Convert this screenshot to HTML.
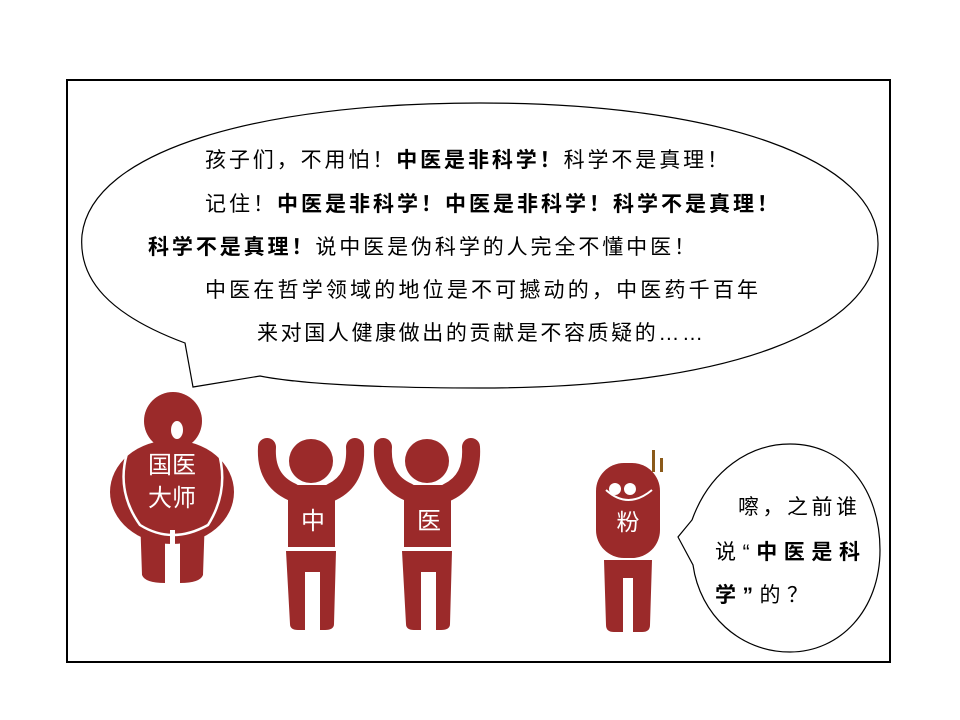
<!DOCTYPE html>
<html><head><meta charset="utf-8"><style>
body{margin:0;background:#fff;}
svg{display:block;}
text{font-family:"Liberation Sans","Noto Sans CJK SC",sans-serif;}
</style></head><body>
<svg width="960" height="720" viewBox="0 0 960 720">
<rect x="67" y="80" width="823" height="582" fill="#fff" stroke="#000" stroke-width="2"/>
<g>
<path d="M185,343 C110,315 78,280 82,235 C92,150 260,103 480,103 C720,103 880,160 878,245 C876,330 730,388 480,388 C380,388 300,384 260,376 L193,387 Z" fill="#fff" stroke="#000" stroke-width="1.2"/>
</g>
<g font-size="21" fill="#000">
<text x="205" y="167" textLength="523" lengthAdjust="spacing">孩子们，不用怕！<tspan font-weight="bold">中医是非科学！</tspan>科学不是真理！</text>
<text x="205" y="211" textLength="573" lengthAdjust="spacing">记住！<tspan font-weight="bold">中医是非科学！中医是非科学！科学不是真理！</tspan></text>
<text x="148" y="254" textLength="547" lengthAdjust="spacing"><tspan font-weight="bold">科学不是真理！</tspan>说中医是伪科学的人完全不懂中医！</text>
<text x="205" y="297" textLength="553" lengthAdjust="spacing">中医在哲学领域的地位是不可撼动的，中医药千百年</text>
<text x="257" y="340" textLength="446" lengthAdjust="spacing">来对国人健康做出的贡献是不容质疑的……</text>
</g>
<g fill="#9b2a2a">
<circle cx="173" cy="421" r="29"/>
<ellipse cx="177" cy="430" rx="6" ry="9" fill="#fff"/>
<ellipse cx="172" cy="492" rx="62" ry="52"/>
<path d="M140,515 L205,515 L203,575 Q200,583 180,583 L180,540 L165,540 L165,583 Q145,583 142,575 Z"/>
<rect x="170" y="530" width="5" height="55" fill="#fff"/>
<path d="M128,450 Q115,490 140,525 Q172,545 208,525 Q230,490 218,450" fill="none" stroke="#fff" stroke-width="2.5"/>
<text x="172" y="473" font-size="24" fill="#fff" text-anchor="middle">国医</text>
<text x="172" y="506" font-size="24" fill="#fff" text-anchor="middle">大师</text>
</g>
<g fill="#9b2a2a">
<circle cx="311" cy="461" r="22"/>
<path d="M267,447 Q265,480 292,492 M355,447 Q357,480 332,492" fill="none" stroke="#9b2a2a" stroke-width="18" stroke-linecap="round"/>
<rect x="288" y="485" width="47" height="62"/>
<path d="M286,551 L336,551 L334,624 Q334,630 325,630 L320,630 L320,572 L305,572 L305,630 L298,630 Q290,630 290,624 Z"/>
<text x="313" y="529" font-size="24" fill="#fff" text-anchor="middle">中</text>
</g>
<g fill="#9b2a2a">
<circle cx="427" cy="461" r="22"/>
<path d="M383,447 Q381,480 408,492 M471,447 Q473,480 448,492" fill="none" stroke="#9b2a2a" stroke-width="18" stroke-linecap="round"/>
<rect x="404" y="485" width="47" height="62"/>
<path d="M402,551 L452,551 L450,624 Q450,630 441,630 L436,630 L436,572 L421,572 L421,630 L414,630 Q406,630 406,624 Z"/>
<text x="429" y="529" font-size="24" fill="#fff" text-anchor="middle">医</text>
</g>
<g fill="#9b2a2a">
<rect x="596" y="463" width="64" height="95" rx="28"/>
<path d="M606,490 Q628,510 652,490" fill="none" stroke="#fff" stroke-width="2"/>
<circle cx="615" cy="489" r="6" fill="#fff"/>
<circle cx="630" cy="489" r="6" fill="#fff"/>
<path d="M604,560 L652,560 L650,625 Q650,632 642,632 L633,632 L633,578 L623,578 L623,632 L614,632 Q606,632 606,625 Z"/>
<rect x="652" y="450" width="3" height="22" fill="#8b5a1a"/>
<rect x="660" y="458" width="3" height="14" fill="#8b5a1a"/>
<text x="628" y="530" font-size="23" fill="#fff" text-anchor="middle">粉</text>
</g>
<g>
<path d="M692,520 C710,470 750,444 790,444 C845,444 880,490 880,550 C880,610 840,652 790,652 C740,652 700,615 693,565 L678,537 Z" fill="#fff" stroke="#000" stroke-width="1.2"/>
</g>
<g font-size="21" fill="#000">
<text x="738" y="514" textLength="119" lengthAdjust="spacing">嚓，之前谁</text>
<text x="715" y="559" textLength="145" lengthAdjust="spacing">说“<tspan font-weight="bold">中医是科</tspan></text>
<text x="715" y="602" textLength="93" lengthAdjust="spacing"><tspan font-weight="bold">学”</tspan>的？</text>
</g>
</svg>
</body></html>
